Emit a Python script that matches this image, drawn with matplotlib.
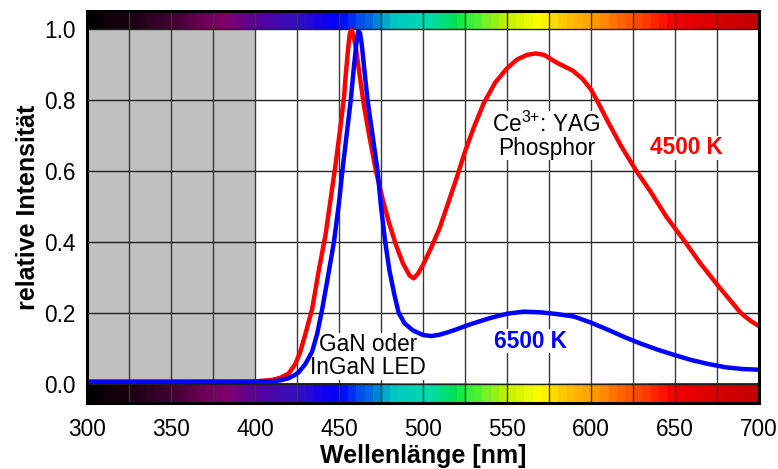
# %%
# LIBRARY
import numpy as np
import matplotlib
matplotlib.use("Agg")
import matplotlib.pyplot as plt
from matplotlib.colors import LinearSegmentedColormap

plt.rcParams['font.family'] = ['Liberation Sans', 'DejaVu Sans']
plt.rcParams['mathtext.fontset'] = 'custom'
plt.rcParams['mathtext.rm'] = 'Liberation Sans'

# %%
## DATA
# 4500 K Spektrum (rot)
wl_4500 = [300, 350, 400, 410, 415, 420, 424, 427, 430, 434, 438, 442, 445, 448,
           451, 453, 454, 455.5, 456.5, 457.5, 458.5, 460, 462, 465, 468, 472,
           476, 480, 484, 488, 492, 494.5, 497, 500, 505, 510, 515, 520, 525,
           530, 536, 543, 550, 556, 562, 567, 572, 580, 589, 595, 600, 603.5,
           610, 618, 627, 635, 645, 656, 665, 675, 689, 695, 700]
int_4500 = [0.005, 0.005, 0.006, 0.010, 0.016, 0.028, 0.055, 0.09, 0.14, 0.21,
            0.32, 0.42, 0.52, 0.62, 0.73, 0.81, 0.87, 0.95, 0.99, 0.998, 0.985,
            0.95, 0.88, 0.78, 0.70, 0.60, 0.52, 0.45, 0.39, 0.34, 0.305, 0.297,
            0.31, 0.335, 0.385, 0.44, 0.51, 0.58, 0.655, 0.72, 0.79, 0.85, 0.89,
            0.915, 0.928, 0.932, 0.928, 0.905, 0.884, 0.86, 0.83, 0.80, 0.74,
            0.67, 0.60, 0.545, 0.47, 0.40, 0.34, 0.28, 0.20, 0.177, 0.162]

# 6500 K Spektrum (blau)
wl_6500 = [300, 350, 400, 410, 415, 420, 424, 426, 430, 434, 437, 440, 443, 447,
           450, 452, 455, 457, 459, 460.5, 461.5, 462.5, 463.5, 465, 467, 470,
           473, 475, 477.5, 480, 483, 485.5, 489, 494, 500, 505, 510, 515, 520,
           525, 530, 540, 550, 560, 570, 580, 590, 600, 610, 620, 630, 640, 650,
           660, 670, 680, 690, 700]
int_6500 = [0.005, 0.005, 0.005, 0.006, 0.009, 0.015, 0.025, 0.032, 0.055, 0.09,
            0.14, 0.21, 0.29, 0.40, 0.51, 0.60, 0.72, 0.80, 0.90, 0.965, 0.995,
            0.99, 0.96, 0.89, 0.80, 0.70, 0.60, 0.50, 0.40, 0.32, 0.25, 0.20,
            0.17, 0.15, 0.137, 0.134, 0.138, 0.145, 0.153, 0.162, 0.17, 0.185,
            0.197, 0.203, 0.201, 0.196, 0.189, 0.172, 0.152, 0.131, 0.112,
            0.095, 0.08, 0.066, 0.055, 0.046, 0.041, 0.039]

x_ticks = [300, 350, 400, 450, 500, 550, 600, 650, 700]
y_ticks = [0.0, 0.2, 0.4, 0.6, 0.8, 1.0]
y_labels = ['0.0', '0.2', '0.4', '0.6', '0.8', '1.0']

# Farbskala des Spektrums (Stuetzstellen)
spec_wl = [300, 325, 350, 375, 385, 400, 425, 440, 450, 460, 470, 475, 480,
           500, 510, 520, 525, 540, 550, 570, 580, 600, 620, 640, 650, 700]
spec_col = ['#000000', '#1c0012', '#420032', '#7a0060', '#7e0070', '#58009a',
            '#3410c0', '#1400f0', '#0000ff', '#0044f0', '#0070e0', '#0098d0',
            '#00c4c4', '#00d8b0', '#00e090', '#00e050', '#28f040', '#80f020',
            '#c4f000', '#ffff00', '#ffd000', '#ffa000', '#ff6000', '#ff2000',
            '#f00000', '#c00000']

# %%
## PLOT
fig = plt.figure(figsize=(7.78, 4.69), dpi=100)
ax = fig.add_axes([0.1118, 0.1407, 0.8638, 0.836])

y_min, y_max = -0.055, 1.052
ax.set_xlim(300, 700)
ax.set_ylim(y_min, y_max)

# Spektralbalken oben und unten
cmap = LinearSegmentedColormap.from_list(
    'spec', [((w - 300) / 400, c) for w, c in zip(spec_wl, spec_col)])
blocks = cmap((np.arange(80) + 0.5) / 80)[np.newaxis, :, :]
ax.imshow(blocks, extent=(300, 700, 1.0, y_max), aspect='auto',
          interpolation='nearest', zorder=0)
ax.imshow(blocks, extent=(300, 700, y_min, 0.0), aspect='auto',
          interpolation='nearest', zorder=0)

# UV-Bereich grau
ax.axvspan(300, 400, ymin=(0 - y_min) / (y_max - y_min),
           ymax=(1 - y_min) / (y_max - y_min), color='#c0c0c0', lw=0, zorder=0.5)

# Gitter
ax.set_xticks(x_ticks)
ax.set_xticks(np.arange(325, 700, 50), minor=True)
ax.set_yticks(y_ticks)
ax.set_yticklabels(y_labels)
ax.grid(which='both', axis='x', color='#383838', lw=1.0)
ax.grid(which='major', axis='y', color='#202020', lw=1.0)
ax.tick_params(which='both', length=0, labelsize=16.3)
ax.tick_params(axis='x', pad=11)
ax.tick_params(axis='y', pad=8)

# Kurven
ax.plot(wl_4500, int_4500, color='#ff0000', lw=3.2, zorder=3)
ax.plot(wl_6500, int_6500, color='#0000ff', lw=3.2, zorder=3.1)

# Beschriftungen
box = dict(facecolor='white', edgecolor='none', pad=0.5)
ax.text(573.5, 0.70, 'Ce$^{3{+}}$: YAG\nPhosphor', ha='center', va='center',
        fontsize=16.3, linespacing=1.0, bbox=box, zorder=2.8)
ax.text(467.5, 0.077, 'GaN oder\nInGaN LED', ha='center', va='center',
        fontsize=16.3, linespacing=1.0, bbox=box, zorder=2.8)
ax.text(657, 0.665, '4500 K', ha='center', va='center', fontsize=16.3,
        fontweight='bold', color='#ff0000', bbox=box, zorder=2.8)
ax.text(564, 0.12, '6500 K', ha='center', va='center', fontsize=16.3,
        fontweight='bold', color='#0000ff', bbox=box, zorder=2.8)

ax.set_xlabel('Wellenlänge [nm]', fontsize=18, fontweight='bold', labelpad=2)
ax.set_ylabel('relative Intensität', fontsize=18, fontweight='bold', labelpad=3)

for s in ax.spines.values():
    s.set_linewidth(2.2)
    s.set_zorder(5)

plt.savefig('out.png', dpi=100)
